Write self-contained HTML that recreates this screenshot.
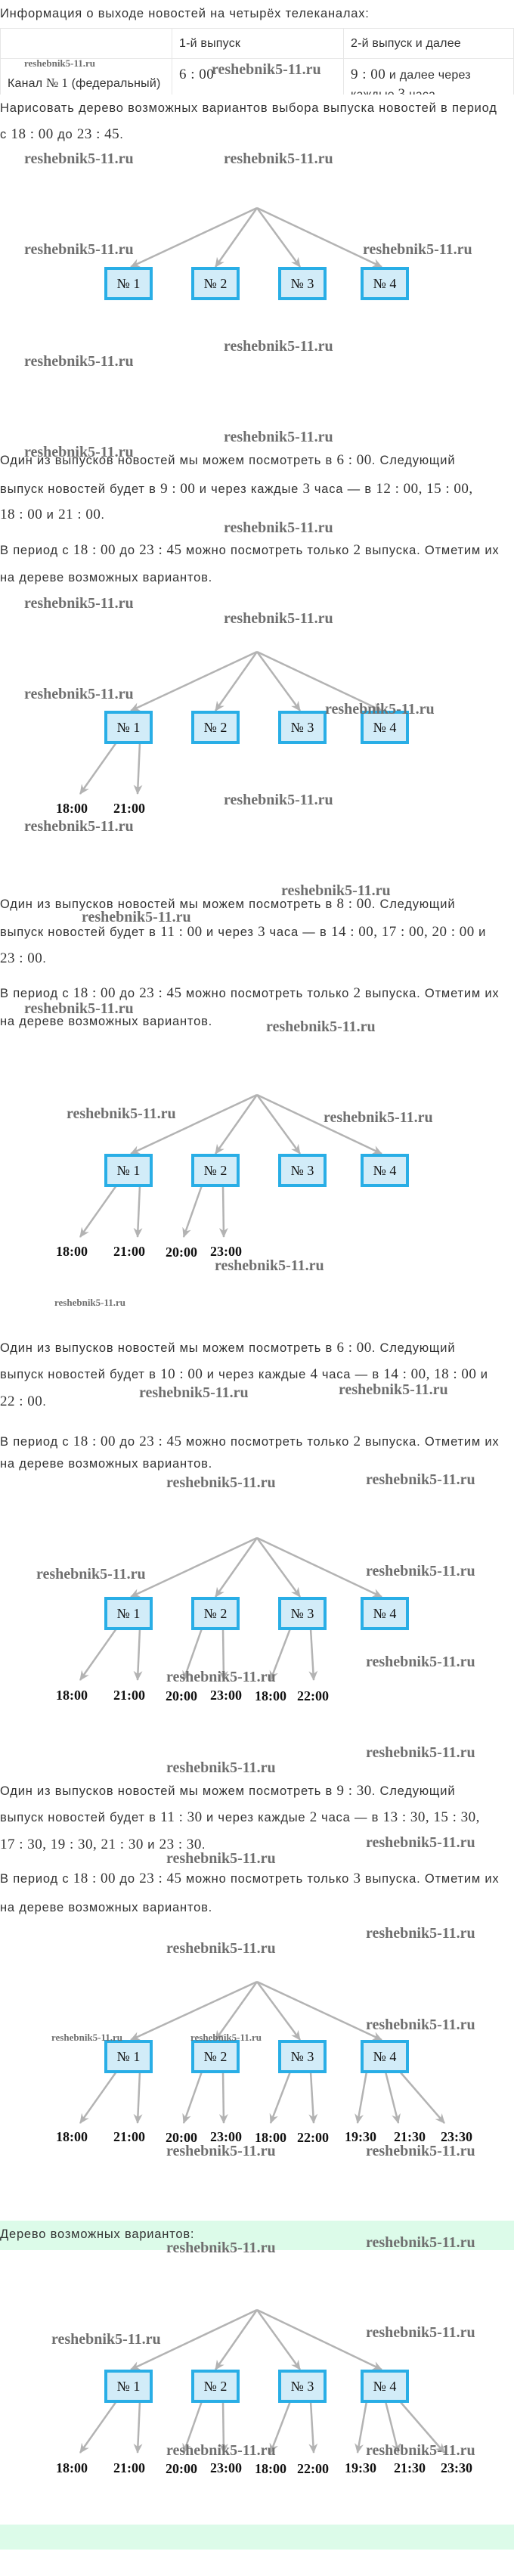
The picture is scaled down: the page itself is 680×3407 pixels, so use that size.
<!DOCTYPE html>
<html><head><meta charset="utf-8">
<style>
html,body{margin:0;padding:0;background:#fff;}
body{width:680px;height:3407px;position:relative;overflow:hidden;font-family:"Liberation Sans",sans-serif;color:#333;}
.t{position:absolute;left:0;white-space:nowrap;font-size:16.5px;letter-spacing:0.8px;line-height:20px;}
.m{font-family:"Liberation Serif",serif;font-size:19px;letter-spacing:0.5px;}
.w{position:absolute;white-space:nowrap;font-family:"Liberation Serif",serif;font-weight:bold;font-size:20px;color:#6f6f6f;line-height:20px;}
.ws{font-size:13px;line-height:14px;}
.g{position:absolute;left:0;width:680px;background:#dcfbe9;}
table{position:absolute;left:0;top:37px;width:680px;border-collapse:collapse;font-size:16px;letter-spacing:0.2px;table-layout:fixed;}
.tw{position:absolute;left:0;top:37px;width:680px;height:88px;overflow:hidden;}
.tw table{top:0;}
td{border:1px solid #e6e6e6;padding:0 9px;vertical-align:middle;white-space:nowrap;overflow:hidden;}
svg{position:absolute;left:0;top:0;}
</style></head><body>

<div class="t" style="top:8px">Информация о выходе новостей на четырёх телеканалах:</div>
<div class="tw"><table>
<tr style="height:40px"><td style="width:208px"></td><td style="width:208px">1-й выпуск</td><td>2-й выпуск и далее</td></tr>
<tr style="height:56px"><td>Канал <span class="m" style="font-size:17px;letter-spacing:0">№ 1</span> (федеральный)</td><td style="vertical-align:top;padding-top:10px"><span class="m">6 : 00</span></td><td style="vertical-align:top;padding-top:10px"><span class="m">9 : 00</span> и далее через<br><span style="line-height:30px">каждые <span class="m">3</span> часа</span></td></tr>
</table></div>
<div class="w ws" style="left:32px;top:77px">reshebnik5-11.ru</div>
<div class="w" style="left:280px;top:82px">reshebnik5-11.ru</div>

<div class="t" style="top:133px">Нарисовать дерево возможных вариантов выбора выпуска новостей в период</div>
<div class="t" style="top:168px">с <span class="m">18 : 00</span> до <span class="m">23 : 45</span>.</div>

<div class="t" style="top:599px">Один из выпусков новостей мы можем посмотреть в <span class="m">6 : 00</span>. Следующий</div>
<div class="t" style="top:637px">выпуск новостей будет в <span class="m">9 : 00</span> и через каждые <span class="m">3</span> часа — в <span class="m">12 : 00, 15 : 00,</span></div>
<div class="t" style="top:671px"><span class="m">18 : 00</span> и <span class="m">21 : 00</span>.</div>
<div class="t" style="top:718px">В период с <span class="m">18 : 00</span> до <span class="m">23 : 45</span> можно посмотреть только <span class="m">2</span> выпуска. Отметим их</div>
<div class="t" style="top:754px">на дереве возможных вариантов.</div>

<div class="t" style="top:1186px">Один из выпусков новостей мы можем посмотреть в <span class="m">8 : 00</span>. Следующий</div>
<div class="t" style="top:1223px">выпуск новостей будет в <span class="m">11 : 00</span> и через <span class="m">3</span> часа — в <span class="m">14 : 00, 17 : 00, 20 : 00</span> и</div>
<div class="t" style="top:1258px"><span class="m">23 : 00</span>.</div>
<div class="t" style="top:1304px">В период с <span class="m">18 : 00</span> до <span class="m">23 : 45</span> можно посмотреть только <span class="m">2</span> выпуска. Отметим их</div>
<div class="t" style="top:1341px">на дереве возможных вариантов.</div>

<div class="t" style="top:1773px">Один из выпусков новостей мы можем посмотреть в <span class="m">6 : 00</span>. Следующий</div>
<div class="t" style="top:1808px">выпуск новостей будет в <span class="m">10 : 00</span> и через каждые <span class="m">4</span> часа — в <span class="m">14 : 00, 18 : 00</span> и</div>
<div class="t" style="top:1844px"><span class="m">22 : 00</span>.</div>
<div class="t" style="top:1897px">В период с <span class="m">18 : 00</span> до <span class="m">23 : 45</span> можно посмотреть только <span class="m">2</span> выпуска. Отметим их</div>
<div class="t" style="top:1926px">на дереве возможных вариантов.</div>

<div class="t" style="top:2359px">Один из выпусков новостей мы можем посмотреть в <span class="m">9 : 30</span>. Следующий</div>
<div class="t" style="top:2394px">выпуск новостей будет в <span class="m">11 : 30</span> и через каждые <span class="m">2</span> часа — в <span class="m">13 : 30, 15 : 30,</span></div>
<div class="t" style="top:2430px"><span class="m">17 : 30, 19 : 30, 21 : 30</span> и <span class="m">23 : 30</span>.</div>
<div class="t" style="top:2475px">В период с <span class="m">18 : 00</span> до <span class="m">23 : 45</span> можно посмотреть только <span class="m">3</span> выпуска. Отметим их</div>
<div class="t" style="top:2513px">на дереве возможных вариантов.</div>

<div class="g" style="top:2937px;height:39px"></div>
<div class="t" style="top:2945px">Дерево возможных вариантов:</div>
<div class="g" style="top:3339px;height:33px"></div>

<svg width="680" height="3407" viewBox="0 0 680 3407">
<defs>
<marker id="a" markerUnits="userSpaceOnUse" markerWidth="14" markerHeight="12" refX="12" refY="6" orient="auto">
<path d="M0,0 L13,6 L0,12 L4,6 z" fill="#b3b3b3"/>
</marker>
</defs>
<g stroke="#b3b3b3" stroke-width="2.5" fill="none" marker-end="url(#a)">
<path d="M340,275 L173,353"/><path d="M340,275 L285,353"/><path d="M340,275 L397,353"/><path d="M340,275 L505,353"/>
<path d="M340,862 L173,940"/><path d="M340,862 L285,940"/><path d="M340,862 L397,940"/><path d="M340,862 L505,940"/>
<path d="M340,1448 L173,1526"/><path d="M340,1448 L285,1526"/><path d="M340,1448 L397,1526"/><path d="M340,1448 L505,1526"/>
<path d="M340,2034 L173,2112"/><path d="M340,2034 L285,2112"/><path d="M340,2034 L397,2112"/><path d="M340,2034 L505,2112"/>
<path d="M340,2621 L173,2698"/><path d="M340,2621 L285,2698"/><path d="M340,2621 L397,2698"/><path d="M340,2621 L505,2698"/>
<path d="M340,3055 L173,3134"/><path d="M340,3055 L285,3134"/><path d="M340,3055 L397,3134"/><path d="M340,3055 L505,3134"/>
<path d="M154,982 L106,1050"/><path d="M185,982 L182,1050"/>
<path d="M154,1568 L106,1636"/><path d="M185,1568 L182,1636"/>
<path d="M267,1568 L243,1636"/><path d="M295,1568 L296,1636"/>
<path d="M154,2154 L106,2222"/><path d="M185,2154 L182,2222"/>
<path d="M267,2154 L243,2222"/><path d="M295,2154 L296,2222"/>
<path d="M384,2154 L358,2222"/><path d="M411,2154 L415,2222"/>
<path d="M154,2740 L106,2808"/><path d="M185,2740 L182,2808"/>
<path d="M267,2740 L243,2808"/><path d="M295,2740 L296,2808"/>
<path d="M384,2740 L358,2808"/><path d="M411,2740 L415,2808"/>
<path d="M485,2740 L473,2808"/><path d="M510,2740 L527,2808"/><path d="M529,2740 L588,2808"/>
<path d="M154,3176 L106,3244"/><path d="M185,3176 L182,3244"/>
<path d="M267,3176 L243,3244"/><path d="M295,3176 L296,3244"/>
<path d="M384,3176 L358,3244"/><path d="M411,3176 L415,3244"/>
<path d="M485,3176 L473,3244"/><path d="M510,3176 L527,3244"/><path d="M529,3176 L588,3244"/>
</g>
<g fill="#d2ecf8" stroke="#29aee6" stroke-width="4">
<rect x="140" y="355" width="60" height="40"/><rect x="255" y="355" width="60" height="40"/><rect x="370" y="355" width="60" height="40"/><rect x="479" y="355" width="60" height="40"/>
<rect x="140" y="942" width="60" height="40"/><rect x="255" y="942" width="60" height="40"/><rect x="370" y="942" width="60" height="40"/><rect x="479" y="942" width="60" height="40"/>
<rect x="140" y="1528" width="60" height="40"/><rect x="255" y="1528" width="60" height="40"/><rect x="370" y="1528" width="60" height="40"/><rect x="479" y="1528" width="60" height="40"/>
<rect x="140" y="2114" width="60" height="40"/><rect x="255" y="2114" width="60" height="40"/><rect x="370" y="2114" width="60" height="40"/><rect x="479" y="2114" width="60" height="40"/>
<rect x="140" y="2700" width="60" height="40"/><rect x="255" y="2700" width="60" height="40"/><rect x="370" y="2700" width="60" height="40"/><rect x="479" y="2700" width="60" height="40"/>
<rect x="140" y="3136" width="60" height="40"/><rect x="255" y="3136" width="60" height="40"/><rect x="370" y="3136" width="60" height="40"/><rect x="479" y="3136" width="60" height="40"/>
</g>
<g font-family="Liberation Serif, serif" font-size="18" fill="#111" text-anchor="middle">
<text x="170" y="381">№ 1</text><text x="285" y="381">№ 2</text><text x="400" y="381">№ 3</text><text x="509" y="381">№ 4</text>
<text x="170" y="968">№ 1</text><text x="285" y="968">№ 2</text><text x="400" y="968">№ 3</text><text x="509" y="968">№ 4</text>
<text x="170" y="1554">№ 1</text><text x="285" y="1554">№ 2</text><text x="400" y="1554">№ 3</text><text x="509" y="1554">№ 4</text>
<text x="170" y="2140">№ 1</text><text x="285" y="2140">№ 2</text><text x="400" y="2140">№ 3</text><text x="509" y="2140">№ 4</text>
<text x="170" y="2726">№ 1</text><text x="285" y="2726">№ 2</text><text x="400" y="2726">№ 3</text><text x="509" y="2726">№ 4</text>
<text x="170" y="3162">№ 1</text><text x="285" y="3162">№ 2</text><text x="400" y="3162">№ 3</text><text x="509" y="3162">№ 4</text>
</g>
<g font-family="Liberation Serif, serif" font-size="18" font-weight="bold" fill="#111" text-anchor="middle">
<text x="95" y="1075">18:00</text><text x="171" y="1075">21:00</text>
<text x="95" y="1661">18:00</text><text x="171" y="1661">21:00</text><text x="240" y="1662">20:00</text><text x="299" y="1661">23:00</text>
<text x="95" y="2248">18:00</text><text x="171" y="2248">21:00</text><text x="240" y="2249">20:00</text><text x="299" y="2248">23:00</text><text x="358" y="2249">18:00</text><text x="414" y="2249">22:00</text>
<text x="95" y="2832">18:00</text><text x="171" y="2832">21:00</text><text x="240" y="2833">20:00</text><text x="299" y="2832">23:00</text><text x="358" y="2833">18:00</text><text x="414" y="2833">22:00</text><text x="477" y="2832">19:30</text><text x="542" y="2832">21:30</text><text x="604" y="2832">23:30</text>
<text x="95" y="3270">18:00</text><text x="171" y="3270">21:00</text><text x="240" y="3271">20:00</text><text x="299" y="3270">23:00</text><text x="358" y="3271">18:00</text><text x="414" y="3271">22:00</text><text x="477" y="3270">19:30</text><text x="542" y="3270">21:30</text><text x="604" y="3270">23:30</text>
</g>
</svg>

<div class="w" style="left:32px;top:200px">reshebnik5-11.ru</div>
<div class="w" style="left:296px;top:200px">reshebnik5-11.ru</div>
<div class="w" style="left:32px;top:320px">reshebnik5-11.ru</div>
<div class="w" style="left:480px;top:320px">reshebnik5-11.ru</div>
<div class="w" style="left:296px;top:448px">reshebnik5-11.ru</div>
<div class="w" style="left:32px;top:468px">reshebnik5-11.ru</div>

<div class="w" style="left:296px;top:568px">reshebnik5-11.ru</div>
<div class="w" style="left:32px;top:588px">reshebnik5-11.ru</div>
<div class="w" style="left:296px;top:688px">reshebnik5-11.ru</div>
<div class="w" style="left:32px;top:788px">reshebnik5-11.ru</div>
<div class="w" style="left:296px;top:808px">reshebnik5-11.ru</div>
<div class="w" style="left:32px;top:908px">reshebnik5-11.ru</div>
<div class="w" style="left:430px;top:928px">reshebnik5-11.ru</div>
<div class="w" style="left:296px;top:1048px">reshebnik5-11.ru</div>
<div class="w" style="left:32px;top:1083px">reshebnik5-11.ru</div>
<div class="w" style="left:372px;top:1168px">reshebnik5-11.ru</div>

<div class="w" style="left:108px;top:1203px">reshebnik5-11.ru</div>
<div class="w" style="left:32px;top:1324px">reshebnik5-11.ru</div>
<div class="w" style="left:352px;top:1348px">reshebnik5-11.ru</div>
<div class="w" style="left:88px;top:1463px">reshebnik5-11.ru</div>
<div class="w" style="left:428px;top:1468px">reshebnik5-11.ru</div>
<div class="w" style="left:284px;top:1664px">reshebnik5-11.ru</div>
<div class="w ws" style="left:72px;top:1716px">reshebnik5-11.ru</div>
<div class="w" style="left:184px;top:1832px">reshebnik5-11.ru</div>
<div class="w" style="left:448px;top:1828px">reshebnik5-11.ru</div>

<div class="w" style="left:220px;top:1951px">reshebnik5-11.ru</div>
<div class="w" style="left:484px;top:1947px">reshebnik5-11.ru</div>
<div class="w" style="left:48px;top:2072px">reshebnik5-11.ru</div>
<div class="w" style="left:484px;top:2068px">reshebnik5-11.ru</div>
<div class="w" style="left:484px;top:2188px">reshebnik5-11.ru</div>
<div class="w" style="left:220px;top:2208px">reshebnik5-11.ru</div>
<div class="w" style="left:484px;top:2308px">reshebnik5-11.ru</div>
<div class="w" style="left:220px;top:2328px">reshebnik5-11.ru</div>
<div class="w" style="left:484px;top:2427px">reshebnik5-11.ru</div>
<div class="w" style="left:220px;top:2448px">reshebnik5-11.ru</div>
<div class="w" style="left:484px;top:2547px">reshebnik5-11.ru</div>
<div class="w" style="left:220px;top:2567px">reshebnik5-11.ru</div>

<div class="w" style="left:484px;top:2668px">reshebnik5-11.ru</div>
<div class="w ws" style="left:68px;top:2688px">reshebnik5-11.ru</div>
<div class="w ws" style="left:252px;top:2688px">reshebnik5-11.ru</div>
<div class="w" style="left:220px;top:2835px">reshebnik5-11.ru</div>
<div class="w" style="left:484px;top:2835px">reshebnik5-11.ru</div>
<div class="w" style="left:220px;top:2963px">reshebnik5-11.ru</div>
<div class="w" style="left:484px;top:2956px">reshebnik5-11.ru</div>
<div class="w" style="left:68px;top:3084px">reshebnik5-11.ru</div>
<div class="w" style="left:484px;top:3075px">reshebnik5-11.ru</div>
<div class="w" style="left:220px;top:3231px">reshebnik5-11.ru</div>
<div class="w" style="left:484px;top:3231px">reshebnik5-11.ru</div>

</body></html>
